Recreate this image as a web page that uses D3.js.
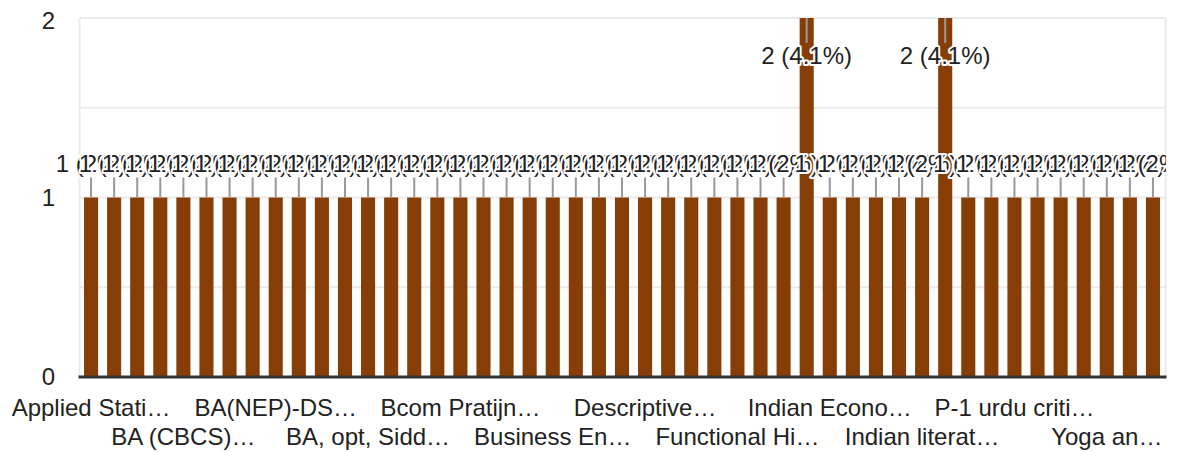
<!DOCTYPE html>
<html>
<head>
<meta charset="utf-8">
<script src="https://cdn.jsdelivr.net/npm/d3@7"></script>
<style>
    body { margin: 0; background: #fff; }
    text { font-family: Arial, "Liberation Sans", sans-serif; }
</style>
</head>
<body>
<div id="chart"></div>
<script>
"use strict";

// course names (answers), in the order the form lists them
var courses = [
    "Applied Statistics and Probability", "Art and Culture", "B.Sc Physics", "BA (Arts) Hindi",
    "BA (CBCS) Mathematics", "BA (Hons) English", "BA (Prog) History", "BA Economics",
    "BA(NEP)-DSC Geography", "BA(NEP) Urdu", "BA, Hindi sahitya", "BA, opt, Psychology",
    "BA, opt, Siddhant Kaumudi", "Basic Accounting", "Bcom Hons", "Bcom Programme",
    "Bcom Pratijna Yogandharayana", "Botany", "Business Communication", "Business Economics",
    "Business English", "Chemistry", "Commerce", "Computer Science",
    "Descriptive Writing", "Development Economics", "Education", "English Literature",
    "Functional Hindi", "Geography", "Hindi Kavya", "History of India",
    "Indian Economy", "Indian Polity", "Indian Philosophy", "Indian Society",
    "Indian literature and culture", "Mathematics", "Micro Economics", "Modern Indian History",
    "P-1 urdu criticism", "Philosophy", "Physical Education", "Political Science",
    "Yoga and Health", "Zoology", "Urdu Ghazal"
];
// number of responses per course
var responses = [
    1, 1, 1, 1, 1, 1, 1, 1, 1, 1, 1, 1, 1, 1, 1, 1,
    1, 1, 1, 1, 1, 1, 1, 1, 1, 1, 1, 1, 1, 1, 1, 2,
    1, 1, 1, 1, 1, 2, 1, 1, 1, 1, 1, 1, 1, 1, 1
];
var yTicks = [0, 1, 2];
var yGrid = [0.5, 1, 1.5, 2];

var width = 1177;
var height = 452;
var plot = { left: 79.5, right: 1164.5, top: 18, bottom: 377 };
var barColor = "#873e06";
var total = d3.sum(responses);

var data = courses.map(function(name, i) {
    return { name: name, value: responses[i] };
});

var x = d3.scaleBand()
    .domain(courses)
    .range([plot.left, plot.right])
    .paddingInner(0.39)
    .paddingOuter(0.195);

var y = d3.scaleLinear()
    .domain([0, 2])
    .range([plot.bottom, plot.top]);

var svg = d3.select("#chart")
    .append("svg")
    .attr("width", width)
    .attr("height", height);

var defs = svg.append("defs");
defs.append("clipPath")
    .attr("id", "annoClip")
    .append("rect")
    .attr("x", 0)
    .attr("y", 0)
    .attr("width", 1166)
    .attr("height", height);

// grid
var grid = svg.append("g").attr("class", "grid");
grid.selectAll("line.h")
    .data(yGrid)
    .enter()
    .append("line")
    .attr("x1", plot.left)
    .attr("x2", plot.right + 1)
    .attr("y1", function(d) { return y(d); })
    .attr("y2", function(d) { return y(d); })
    .attr("stroke", "#ebebeb")
    .attr("stroke-width", 2);
grid.selectAll("line.v")
    .data([plot.left, plot.right + 1])
    .enter()
    .append("line")
    .attr("x1", function(d) { return d; })
    .attr("x2", function(d) { return d; })
    .attr("y1", plot.top)
    .attr("y2", plot.bottom)
    .attr("stroke", "#ebebeb")
    .attr("stroke-width", 2);

// bars
svg.append("g")
    .selectAll("rect")
    .data(data)
    .enter()
    .append("rect")
    .attr("x", function(d) { return x(d.name); })
    .attr("width", x.bandwidth())
    .attr("y", function(d) { return y(d.value); })
    .attr("height", function(d) { return y(0) - y(d.value); })
    .attr("fill", barColor);

// baseline
svg.append("line")
    .attr("x1", plot.left - 1)
    .attr("x2", plot.right + 2)
    .attr("y1", y(0))
    .attr("y2", y(0))
    .attr("stroke", "#333")
    .attr("stroke-width", 3);

// y labels
svg.append("g")
    .selectAll("text")
    .data(yTicks)
    .enter()
    .append("text")
    .attr("x", 55)
    .attr("y", function(d) { return y(d) + (d === 2 ? 11 : 8); })
    .attr("text-anchor", "end")
    .attr("font-size", 24)
    .attr("fill", "#222")
    .text(function(d) { return d; });

// annotations: stem + label with white halo
function pct(v) {
    return +(v / total * 100).toFixed(1);
}
function inside(d) {
    return y(d.value) - 40 < plot.top;
}
var anno = svg.append("g").attr("clip-path", "url(#annoClip)");
anno.selectAll("line")
    .data(data)
    .enter()
    .append("line")
    .attr("x1", function(d) { return x(d.name) + x.bandwidth() / 2; })
    .attr("x2", function(d) { return x(d.name) + x.bandwidth() / 2; })
    .attr("y1", function(d) { return y(d.value); })
    .attr("y2", function(d) { return inside(d) ? y(d.value) + 25 : y(d.value) - 20; })
    .attr("stroke", "#999")
    .attr("stroke-width", 2);
data.forEach(function(d) {
    anno.append("text")
        .attr("x", x(d.name) + x.bandwidth() / 2)
        .attr("y", inside(d) ? y(d.value) + 46 : y(d.value) - 26)
        .attr("text-anchor", "middle")
        .attr("font-size", 24)
        .attr("fill", "#222")
        .attr("stroke", "#fff")
        .attr("stroke-width", 4)
        .attr("stroke-linejoin", "round")
        .attr("paint-order", "stroke")
        .text(d.value + " (" + pct(d.value) + "%)");
});

// x labels: every 4th category, two staggered rows
var xLabels = data.filter(function(d, i) { return i % 4 === 0; });
svg.append("g")
    .selectAll("text")
    .data(xLabels)
    .enter()
    .append("text")
    .attr("x", function(d) { return x(d.name) + x.bandwidth() / 2; })
    .attr("y", function(d, i) { return i % 2 === 0 ? 416 : 445; })
    .attr("text-anchor", "middle")
    .attr("font-size", 24)
    .attr("fill", "#222")
    .each(function(d) {
        var el = d3.select(this);
        var cx = x(d.name) + x.bandwidth() / 2;
        var maxW = Math.min(168, 2 * (1166 - cx), 2 * cx);
        el.text(d.name);
        if (this.getComputedTextLength() <= maxW) {
            return;
        }
        for (var n = d.name.length - 1; n > 0; n--) {
            el.text(d.name.slice(0, n).replace(/\s+$/, "") + "\u2026");
            if (this.getComputedTextLength() <= maxW) {
                break;
            }
        }
    });
</script>
</body>
</html>
